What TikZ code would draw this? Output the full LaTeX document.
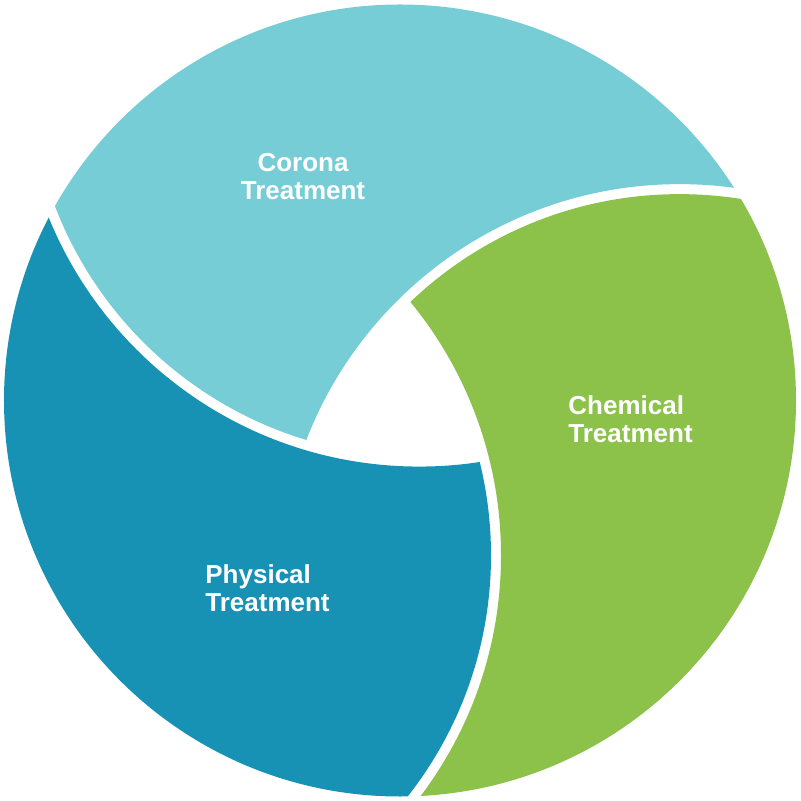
\documentclass[tikz,border=0pt]{standalone}
\usepackage{fontspec}
\setmainfont{Liberation Sans}
\definecolor{coronaColor}{HTML}{76CDD6}
\definecolor{chemicalColor}{HTML}{8DC24A}
\definecolor{physicalColor}{HTML}{1892B4}

\begin{document}
\begin{tikzpicture}[x = 0.5pt, y = 0.5pt]
	\tikzstyle{labelStyle}=[text = white, font = \fontsize{13}{14}\selectfont\bfseries, inner sep = 0pt]
	\useasboundingbox (-400,-400.5) rectangle (400,400.5);
	% corona: inside the top circle, outside the right one
	\begin{scope}
		\clip (0,0) circle [radius = 396];
		\clip (86.7:334.5) circle [radius = 390];
		\fill[coronaColor, even odd rule] (-400,-400.5) rectangle (400,400.5) (-33.3:334.5) circle [radius = 400];
	\end{scope}
	% chemical: inside the right circle, outside the left one
	\begin{scope}
		\clip (0,0) circle [radius = 396];
		\clip (-33.3:334.5) circle [radius = 390];
		\fill[chemicalColor, even odd rule] (-400,-400.5) rectangle (400,400.5) (-299,-155) circle [radius = 400];
	\end{scope}
	% physical: inside the left circle, outside the top one
	\begin{scope}
		\clip (0,0) circle [radius = 396];
		\clip (-299,-155) circle [radius = 390];
		\fill[physicalColor, even odd rule] (-400,-400.5) rectangle (400,400.5) (86.7:334.5) circle [radius = 400];
	\end{scope}
	\node[labelStyle, align = center] (corona) at (-97,224) {Corona\\Treatment};
	\node[labelStyle, align = left, anchor = west] (chemical) at (168,-18.5) {Chemical\\Treatment};
	\node[labelStyle, align = left, anchor = west] (physical) at (-195,-187.5) {Physical\\Treatment};
\end{tikzpicture}
\end{document}
